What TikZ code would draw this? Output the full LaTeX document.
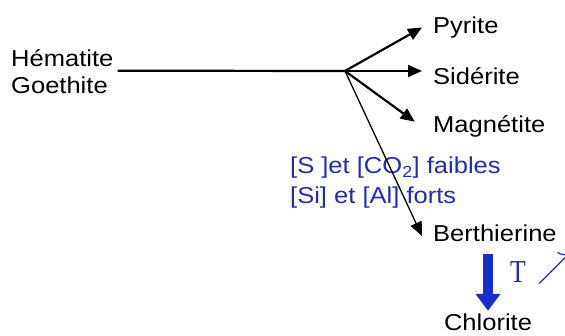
\documentclass[tikz,border=0pt]{standalone}
\usepackage{fontspec}
\setmainfont{Liberation Sans}[FakeStretch=1.11]
\newfontfamily\tempfont{Liberation Serif}[FakeStretch=0.8]
\usetikzlibrary{arrows.meta}
\definecolor{condblue}{RGB}{35,45,165}
\definecolor{arrowblue}{RGB}{25,45,200}

\begin{document}
\begin{tikzpicture}[
    x=1pt, y=-1pt,
    mineral/.style={inner xsep=11pt, inner ysep=0pt, text height=16pt, text depth=4pt, font=\fontsize{23}{27}\selectfont},
    source/.style={mineral, inner xsep=4pt},
    cond/.style={mineral, inner xsep=0pt, text=condblue},
    arrow/.style={-{Triangle[length=14pt,width=12pt]}, line width=2.2pt},
    bigarrow/.style={-{Triangle[length=17pt,width=24pt]}, line width=10pt, draw=arrowblue}
]
\useasboundingbox (0,0) rectangle (565,336);
\clip (0,0) rectangle (565,336);

\node[source, anchor=base west] (hem) at (7,66.5) {Hématite};
\node[source, anchor=base west] (goe) at (7,94) {Goethite};
\coordinate (hub) at (345,71);

\node[mineral, anchor=base west] (pyr) at (422,33.5) {Pyrite};
\node[mineral, anchor=base west] (sid) at (422,85) {Sidérite};
\node[mineral, anchor=base west] (mag) at (422,133) {Magnétite};
\node[mineral, anchor=base west] (ber) at (422,242) {Berthierine};
\node[mineral, inner xsep=0pt, anchor=base] (chl) at (488,331) {Chlorite};

% conditions
\node[cond, anchor=base west] (cond1) at (290,174) {[S ]et [CO\textsubscript{2}] faibles};
\node[cond, anchor=base west] (cond2) at (290,204) {[Si] et [Al] forts};
\node[anchor=base west, inner sep=0pt, text=condblue, font=\tempfont\fontsize{32}{36}\selectfont] (temp) at (510,283) {T\hspace{12pt}\raisebox{5pt}{\scalebox{1.4}{$\nearrow$}}};

\draw[line width=2.2pt] (hem.south east) -- (hub);
\draw[arrow] (hub) -- (pyr.west);
\draw[arrow] (hub) -- (hub -| sid.west);
\draw[arrow, shorten >=9pt] (hub) -- (mag.west);
\draw[arrow, line width=1.3pt] (hub) -- (ber.west);
\draw[bigarrow, shorten <=8pt, shorten >=4pt] (ber.south -| chl.north) -- (chl.north);
\end{tikzpicture}
\end{document}
